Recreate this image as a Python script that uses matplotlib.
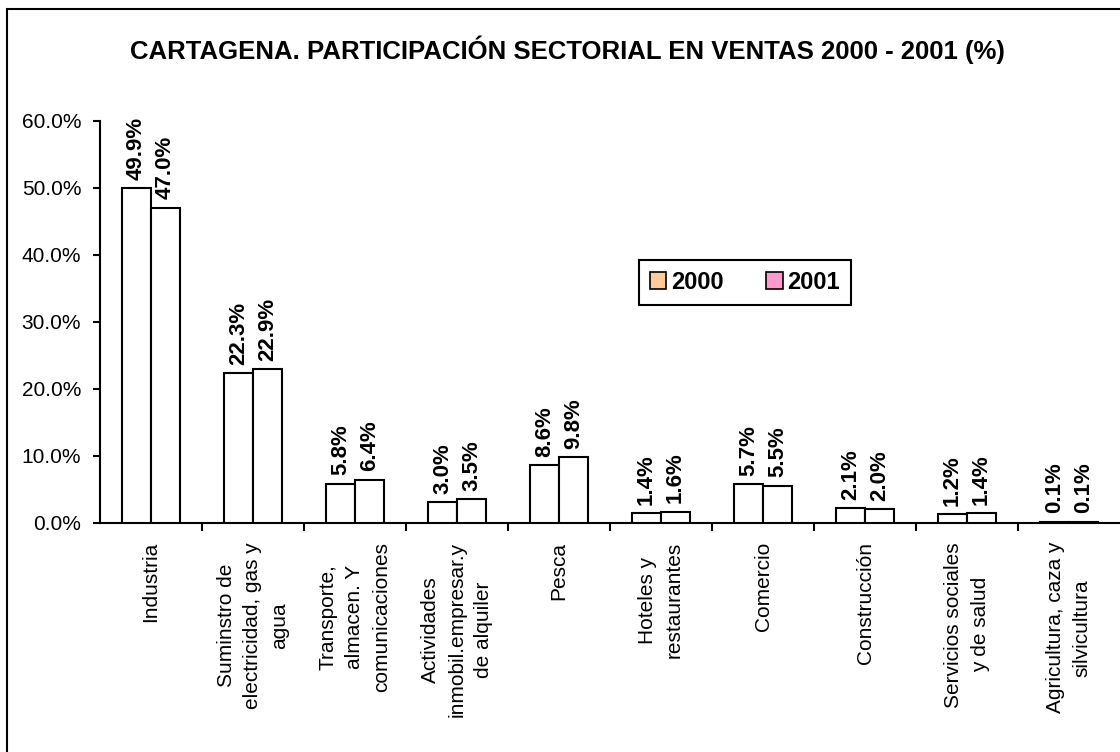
import matplotlib
matplotlib.use('Agg')
import matplotlib.pyplot as plt
import matplotlib.patches as mpatches
import numpy as np

plt.rcParams['font.family'] = ['Liberation Sans', 'DejaVu Sans']

TITLE = 'CARTAGENA. PARTICIPACIÓN SECTORIAL EN VENTAS 2000 - 2001 (%)'
SECTORS = [
    'Industria',
    'Suminstro de\nelectricidad, gas y\nagua',
    'Transporte,\nalmacen. Y\ncomunicaciones',
    'Actividades\ninmobil.empresar.y\nde alquiler',
    'Pesca',
    'Hoteles y\nrestaurantes',
    'Comercio',
    'Construcción',
    'Servicios sociales\ny de salud',
    'Agricultura, caza y\nsilvicultura',
]
SALES_2000 = [49.9, 22.3, 5.8, 3.0, 8.6, 1.4, 5.7, 2.1, 1.2, 0.1]
SALES_2001 = [47.0, 22.9, 6.4, 3.5, 9.8, 1.6, 5.5, 2.0, 1.4, 0.1]
YEARS = ['2000', '2001']
LEGEND_COLORS = ['#FFCC99', '#FF99CC']

W, H = 1120, 752


def main():
    fig = plt.figure(figsize=(W / 100, H / 100), dpi=100)
    # axes placed in pixel terms of the reference
    ax = fig.add_axes([100 / W, 1 - 522.5 / H, 1020 / W, 402 / H])

    x = np.arange(len(SECTORS))
    bw = 0.285
    for k, vals in enumerate([SALES_2000, SALES_2001]):
        offs = (k - 0.5) * bw
        bars = ax.bar(x + offs, vals, bw, facecolor='white', edgecolor='black',
                      linewidth=1.5, zorder=3)
        for rect, v in zip(bars, vals):
            ax.annotate('{:.1f}%'.format(v),
                        (rect.get_x() + rect.get_width() / 2, rect.get_height()),
                        xytext=(0, 6), textcoords='offset points',
                        rotation=90, ha='center', va='bottom',
                        fontsize=16, fontweight='bold')

    ax.set_xlim(-0.5, len(SECTORS) - 0.5)
    ax.set_ylim(0, 60)
    ax.set_yticks(np.arange(0, 61, 10))
    ax.set_yticklabels(['{:.1f}%'.format(t) for t in np.arange(0, 61, 10)])
    ax.tick_params(axis='y', length=5, width=1.5, pad=8.5, labelsize=15)

    # group separators as major ticks, sector names on minor ticks
    ax.set_xticks(np.arange(0.5, len(SECTORS) - 0.5, 1))
    ax.set_xticklabels([])
    ax.tick_params(axis='x', which='major', length=6, width=1.5)
    ax.set_xticks(x, minor=True)
    ax.set_xticklabels(SECTORS, minor=True, rotation=90)
    ax.tick_params(axis='x', which='minor', length=0, pad=14, labelsize=15)
    for lbl in ax.get_xticklabels(minor=True):
        lbl.set_multialignment('center')
        lbl.set_linespacing(1.5)

    for side in ['top', 'right']:
        ax.spines[side].set_visible(False)
    for side in ['left', 'bottom']:
        ax.spines[side].set_linewidth(1.5)

    fig.text(567 / W, 1 - 50 / H, TITLE, ha='center', va='center',
             fontsize=18.5, fontweight='bold')

    handles = [mpatches.Patch(facecolor=c, edgecolor='black', linewidth=1.2)
               for c in LEGEND_COLORS]
    leg = fig.legend(handles, YEARS, ncol=2, loc='center',
                     bbox_to_anchor=(745 / W, 1 - 282.5 / H),
                     prop={'weight': 'bold', 'size': 17},
                     handlelength=0.7, handleheight=0.7, handletextpad=0.2,
                     columnspacing=1.8, borderpad=0.45, fancybox=False,
                     framealpha=1, edgecolor='black')
    leg.get_frame().set_linewidth(1.5)

    # outer chart frame (right and bottom edges fall outside the picture)
    frame = mpatches.Rectangle((7 / W, -0.05), 1.1, 1 - 9 / H + 0.05,
                               transform=fig.transFigure, fill=False,
                               edgecolor='black', linewidth=1.5, clip_on=False)
    fig.patches.append(frame)

    fig.savefig('out.png', dpi=100)
    plt.close(fig)


if __name__ == '__main__':
    main()
